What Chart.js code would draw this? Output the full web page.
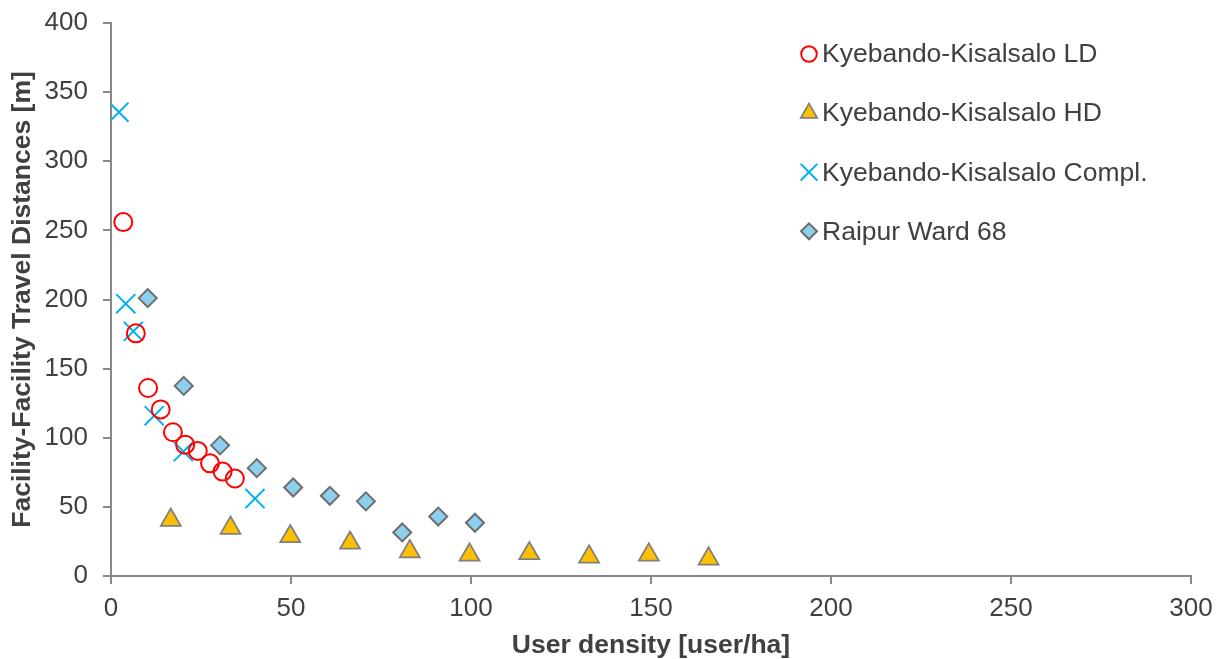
<!DOCTYPE html>
<html>
<head>
<meta charset="utf-8">
<title>Facility-Facility Travel Distances</title>
<script src="https://cdn.jsdelivr.net/npm/chart.js@4/dist/chart.umd.min.js"></script>
<style>
  html, body { margin: 0; padding: 0; background: #ffffff; }
  #wrap { width: 1223px; height: 659px; }
</style>
</head>
<body>
<div id="wrap"><canvas id="densityChart" width="1223" height="659"></canvas></div>
<script>
// --- Series data (user density vs. travel distance) ---
const ldDensity = [3.4, 6.9, 10.3, 13.8, 17.2, 20.6, 24.1, 27.5, 31.0, 34.4];
const ldDistance = [256, 175.5, 136, 120.5, 104, 95, 90.5, 81.5, 75.5, 70.5];

const hdDensity = [16.6, 33.2, 49.8, 66.4, 83, 99.6, 116.2, 132.8, 149.4, 166];
const hdDistance = [40.5, 34.7, 28.6, 23.9, 17.7, 15.3, 16.3, 13.9, 15.3, 12.4];

const complDensity = [2.2, 4.1, 6.2, 12.0, 20.1, 40.0];
const complDistance = [335.5, 197, 177, 116, 90, 56];

const raipurDensity = [10.2, 20.2, 30.3, 40.5, 50.6, 60.8, 70.8, 80.9, 90.9, 101.1];
const raipurDistance = [201, 137.5, 94.5, 78, 64, 58, 54, 31.5, 43, 38.5];

const seriesNames = ['Kyebando-Kisalsalo LD', 'Kyebando-Kisalsalo HD', 'Kyebando-Kisalsalo Compl.', 'Raipur Ward 68'];

const xTicks = [0, 50, 100, 150, 200, 250, 300];
const yTicks = [0, 50, 100, 150, 200, 250, 300, 350, 400];

const toPoints = (xs, ys) => xs.map((x, i) => ({ x: x, y: ys[i] }));

const TEXT_COLOR = '#404040';
const AXIS_COLOR = '#898989';
const FONT_FAMILY = '"Liberation Sans", Arial, sans-serif';

// Legend sits inside the plot, drawn by hand so it can overlap the axes area
const insideLegend = {
    id: 'insideLegend',
    afterDraw(chart) {
        const ctx = chart.ctx;
        const drawPoint = Chart.helpers && Chart.helpers.drawPoint;
        ctx.save();
        ctx.font = '26.5px ' + FONT_FAMILY;
        ctx.textBaseline = 'middle';
        ctx.textAlign = 'left';
        chart.data.datasets.forEach((ds, i) => {
            const y = 54 + i * 59.1;
            if (drawPoint) {
                ctx.save();
                ctx.fillStyle = ds.backgroundColor;
                ctx.strokeStyle = ds.borderColor;
                ctx.lineWidth = ds.borderWidth;
                drawPoint(ctx, { pointStyle: ds.pointStyle, rotation: 0, radius: ds.legendRadius, borderWidth: ds.borderWidth }, 809, y);
                ctx.restore();
            }
            ctx.fillStyle = TEXT_COLOR;
            ctx.fillText(ds.label, 822, y + 1);
        });
        ctx.restore();
    }
};

const ctx = document.getElementById('densityChart').getContext('2d');

new Chart(ctx, {
    type: 'scatter',
    data: {
        datasets: [
            {
                label: seriesNames[0],
                data: toPoints(ldDensity, ldDistance),
                pointStyle: 'circle',
                pointRadius: 9,
                legendRadius: 7.8,
                backgroundColor: 'rgba(0,0,0,0)',
                borderColor: '#ff0000',
                borderWidth: 2
            },
            {
                label: seriesNames[1],
                data: toPoints(hdDensity, hdDistance),
                pointStyle: 'triangle',
                pointRadius: 11.5,
                legendRadius: 9.5,
                backgroundColor: '#ffc000',
                borderColor: '#7f7f7f',
                borderWidth: 1.75
            },
            {
                label: seriesNames[2],
                data: toPoints(complDensity, complDistance),
                pointStyle: 'crossRot',
                pointRadius: 13.5,
                legendRadius: 11.8,
                backgroundColor: '#00b0f0',
                borderColor: '#00b0f0',
                borderWidth: 2
            },
            {
                label: seriesNames[3],
                data: toPoints(raipurDensity, raipurDistance),
                pointStyle: 'rectRot',
                pointRadius: 9,
                legendRadius: 8,
                backgroundColor: '#8ccfee',
                borderColor: '#6e6e6e',
                borderWidth: 2
            }
        ]
    },
    options: {
        responsive: false,
        animation: false,
        layout: { padding: { top: 23, right: 32, left: 0, bottom: 0 } },
        plugins: {
            legend: { display: false },
            tooltip: { enabled: false }
        },
        scales: {
            x: {
                type: 'linear',
                min: 0,
                max: 300,
                afterFit: (scale) => {
                    scale.height = 83;
                    scale.paddingLeft = 0;
                    scale.paddingRight = 0;
                },
                afterBuildTicks: (scale) => { scale.ticks = xTicks.map(v => ({ value: v })); },
                grid: { drawOnChartArea: false, drawTicks: true, tickLength: 8, color: AXIS_COLOR, lineWidth: 2 },
                border: { display: true, color: AXIS_COLOR, width: 2 },
                ticks: { color: TEXT_COLOR, padding: 9, font: { family: FONT_FAMILY, size: 26 } },
                title: {
                    display: true,
                    text: 'User density [user/ha]',
                    color: TEXT_COLOR,
                    padding: { top: 0, bottom: 0 },
                    font: { family: FONT_FAMILY, size: 26.5, weight: 'bold', lineHeight: 1 }
                }
            },
            y: {
                type: 'linear',
                min: 0,
                max: 400,
                afterFit: (scale) => {
                    scale.width = 111;
                    // tick padding would otherwise push the plot top down
                    scale.paddingTop = 0;
                    scale.paddingBottom = 0;
                },
                afterBuildTicks: (scale) => { scale.ticks = yTicks.map(v => ({ value: v })); },
                grid: { drawOnChartArea: false, drawTicks: true, tickLength: 8, color: AXIS_COLOR, lineWidth: 2 },
                border: { display: true, color: AXIS_COLOR, width: 2 },
                ticks: { color: TEXT_COLOR, padding: 15, font: { family: FONT_FAMILY, size: 26 } },
                title: {
                    display: true,
                    text: 'Facility-Facility Travel Distances [m]',
                    color: TEXT_COLOR,
                    padding: { top: 9.5, bottom: 0 },
                    font: { family: FONT_FAMILY, size: 26.5, weight: 'bold', lineHeight: 1 }
                }
            }
        }
    },
    plugins: [insideLegend]
});
</script>
</body>
</html>
